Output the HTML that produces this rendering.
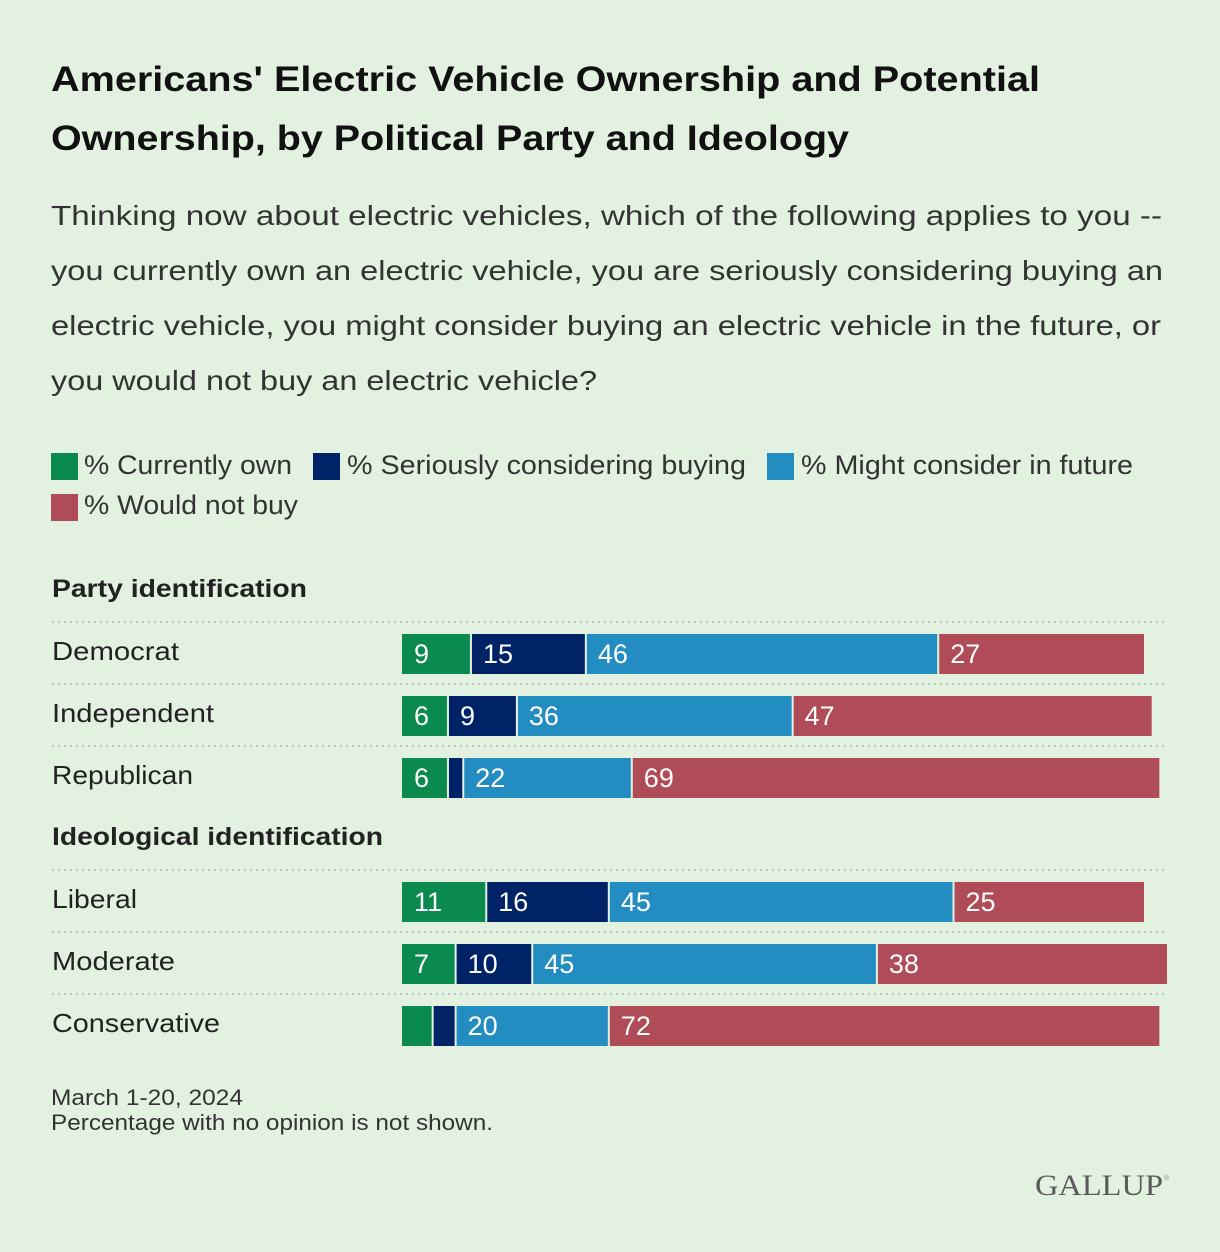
<!DOCTYPE html>
<html><head><meta charset="utf-8"><style>
body{margin:0;background:#e3f1e1;}
svg{display:block;font-family:"Liberation Sans",Arial,sans-serif;}
</style></head><body>
<svg id="chart" width="1220" height="1252" viewBox="0 0 1220 1252">
<rect width="1220" height="1252" fill="#e3f1e1"/>
<text font-weight="bold" font-size="35" fill="#111" lengthAdjust="spacingAndGlyphs">
<tspan x="51" y="91" textLength="989" lengthAdjust="spacingAndGlyphs">Americans' Electric Vehicle Ownership and Potential</tspan>
<tspan x="51" y="150" textLength="798" lengthAdjust="spacingAndGlyphs">Ownership, by Political Party and Ideology</tspan></text>
<text font-size="28" fill="#333">
<tspan x="51" y="225" textLength="1111" lengthAdjust="spacingAndGlyphs">Thinking now about electric vehicles, which of the following applies to you --</tspan>
<tspan x="51" y="280" textLength="1112" lengthAdjust="spacingAndGlyphs">you currently own an electric vehicle, you are seriously considering buying an</tspan>
<tspan x="51" y="335" textLength="1110" lengthAdjust="spacingAndGlyphs">electric vehicle, you might consider buying an electric vehicle in the future, or</tspan>
<tspan x="51" y="390" textLength="546" lengthAdjust="spacingAndGlyphs">you would not buy an electric vehicle?</tspan></text>
<g font-size="27" fill="#333">
<rect x="51" y="453" width="27" height="27" fill="#0a8a4e"/>
<text x="84" y="474" textLength="208" lengthAdjust="spacingAndGlyphs">% Currently own</text>
<rect x="313" y="453" width="27" height="27" fill="#002368"/>
<text x="347" y="474" textLength="399" lengthAdjust="spacingAndGlyphs">% Seriously considering buying</text>
<rect x="767" y="453" width="27" height="27" fill="#238dc1"/>
<text x="801" y="474" textLength="332" lengthAdjust="spacingAndGlyphs">% Might consider in future</text>
<rect x="51" y="494" width="27" height="27" fill="#b04b58"/>
<text x="84" y="514" textLength="214" lengthAdjust="spacingAndGlyphs">% Would not buy</text>
</g>
<text x="52" y="597" font-size="25" font-weight="bold" fill="#222" textLength="255" lengthAdjust="spacingAndGlyphs">Party identification</text>
<text x="52" y="845" font-size="25" font-weight="bold" fill="#222" textLength="331" lengthAdjust="spacingAndGlyphs">Ideological identification</text>
<g id="bars"></g>
<text font-size="22" fill="#333">
<tspan x="51" y="1105" textLength="192" lengthAdjust="spacingAndGlyphs">March 1-20, 2024</tspan>
<tspan x="51" y="1130" textLength="442" lengthAdjust="spacingAndGlyphs">Percentage with no opinion is not shown.</tspan></text>
<text x="1035" y="1195" font-family="Liberation Serif,serif" font-size="30" fill="#5a5a5a" textLength="128" lengthAdjust="spacingAndGlyphs">GALLUP</text>
<text x="1164" y="1180" font-size="7" fill="#888">®</text>
</svg>
<script>
const categories=["Democrat","Independent","Republican","Liberal","Moderate","Conservative"];
const own=[9,6,6,11,7,4];
const seriously=[15,9,2,16,10,3];
const might=[46,36,22,45,45,20];
const wouldNot=[27,47,69,25,38,72];
const showLabel=[[1,1,1,1],[1,1,1,1],[1,0,1,1],[1,1,1,1],[1,1,1,1],[0,0,1,1]];
const labelWidths=[127,162,141,85,123,168];
const colors=["#0a8a4e","#002368","#238dc1","#b04b58"];
const NS="http://www.w3.org/2000/svg";
const g=document.getElementById('bars');
const x0=402, unit=7.66;
const xScale=v=>x0+v*unit;
const rowTop=[634,696,758,882,944,1006];
function mk(t,a){const e=document.createElementNS(NS,t);for(const k in a)e.setAttribute(k,a[k]);return e;}
categories.forEach((c,i)=>{
  const y=rowTop[i];
  const line=mk('line',{x1:52,x2:1168,y1:y-12,y2:y-12,stroke:'#b9c7b6','stroke-width':2,'stroke-dasharray':'2,4'});
  
  
  g.appendChild(line);
  const lab=mk('text',{x:52,y:y+26,'font-size':26,fill:'#222',textLength:labelWidths[i],lengthAdjust:'spacingAndGlyphs'});
  lab.textContent=c;
  
  
  g.appendChild(lab);
  const vals=[own[i],seriously[i],might[i],wouldNot[i]];
  let cum=0;
  vals.forEach((v,j)=>{
    const xa=xScale(cum), xb=xScale(cum+v);
    const r=mk('rect',{x:xa+(j?1:0),y:y,width:Math.max(0,xb-xa-(j?1:0)-1),height:40,fill:colors[j]});
    
    
    g.appendChild(r);
    if(showLabel[i][j]){
      const t=mk('text',{x:xa+12,y:y+29,'font-size':27,fill:'#fff'});
      t.textContent=v;
      
      
      g.appendChild(t);
    }
    cum+=v;
  });
});
</script>
</body></html>
